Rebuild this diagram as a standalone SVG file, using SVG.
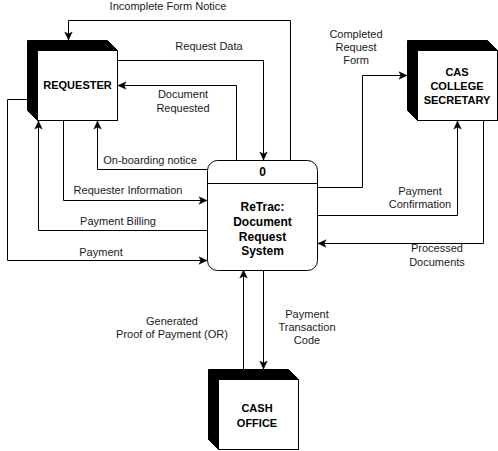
<svg xmlns="http://www.w3.org/2000/svg" width="498" height="451" viewBox="0 0 498 451">
<style>
.cube{fill:#000;stroke:#000;stroke-width:1}
.face{fill:#fff;stroke:#000;stroke-width:1}
.nl{font-family:"Liberation Sans",Arial,sans-serif;font-size:11px;font-weight:bold;fill:#000;text-anchor:middle;dominant-baseline:central}
.pl{font-family:"Liberation Sans",Arial,sans-serif;font-size:12px;font-weight:bold;fill:#000;text-anchor:middle;dominant-baseline:central}
.el{font-family:"Liberation Sans",Arial,sans-serif;font-size:11px;fill:#1a1a1a;text-anchor:middle;dominant-baseline:central}
.e{fill:none;stroke:#000;stroke-width:1;marker-end:url(#arr)}
</style>
<defs>
<marker id="arr" markerUnits="userSpaceOnUse" markerWidth="10" markerHeight="10" viewBox="0 0 10 10" refX="9" refY="5" orient="auto">
<path d="M1,1.3 L9,5 L1,8.7 L3,5 Z" fill="#000" stroke="#000" stroke-width="0.5"/>
</marker>
</defs>
<rect width="498" height="451" fill="#fff"/>
<g id="connectors">
<path class="e" d="M290.5,160 V20.5 H68.5 V40"/>
<path class="e" d="M117.5,60.5 H263.5 V160"/>
<path class="e" d="M236.5,160 V85.5 H118"/>
<path class="e" d="M207,169.5 H97.5 V121"/>
<path class="e" d="M63.5,121 V200.5 H207"/>
<path class="e" d="M207,230.5 H38.5 V121"/>
<path class="e" d="M27.5,99.5 H7.5 V260.5 H207"/>
<path class="e" d="M318,187.5 H362.5 V75.5 H407"/>
<path class="e" d="M318,215.5 H457.5 V121"/>
<path class="e" d="M483.5,121 V243.5 H318"/>
<path class="e" d="M243.5,369 V270"/>
<path class="e" d="M263.5,270 V369"/>
</g>
<g id="edge-labels">
<text class="el" x="168" y="6">Incomplete Form Notice</text>
<text class="el" x="209" y="46">Request Data</text>
<text class="el" x="183" y="94">Document</text>
<text class="el" x="183" y="108">Requested</text>
<text class="el" x="150" y="160">On-boarding notice</text>
<text class="el" x="128" y="190">Requester Information</text>
<text class="el" x="118" y="221">Payment Billing</text>
<text class="el" x="101" y="252">Payment</text>
<text class="el" x="356" y="34">Completed</text>
<text class="el" x="356" y="47">Request</text>
<text class="el" x="356" y="60">Form</text>
<text class="el" x="420" y="191">Payment</text>
<text class="el" x="420" y="204">Confirmation</text>
<text class="el" x="437" y="248">Processed</text>
<text class="el" x="437" y="262">Documents</text>
<text class="el" x="172" y="321">Generated</text>
<text class="el" x="172" y="334">Proof of Payment (OR)</text>
<text class="el" x="307" y="314">Payment</text>
<text class="el" x="307" y="327">Transaction</text>
<text class="el" x="307" y="340">Code</text>
</g>
<g id="requester">
<path class="cube" d="M27.5,40.5 H107.5 L117.5,50.5 V120.5 H37.5 L27.5,110.5 Z"/>
<rect class="face" x="37.5" y="50.5" width="80" height="70"/>
<text class="nl" x="77.5" y="85">REQUESTER</text>
</g>
<g id="cas-college-secretary">
<path class="cube" d="M407.5,40.5 H487.5 L497.5,50.5 V120.5 H417.5 L407.5,110.5 Z"/>
<rect class="face" x="417.5" y="50.5" width="80" height="70"/>
<text class="nl" x="457" y="72">CAS</text>
<text class="nl" x="457" y="86">COLLEGE</text>
<text class="nl" x="457" y="100">SECRETARY</text>
</g>
<g id="cash-office">
<path class="cube" d="M208.5,369.5 H288.5 L298.5,379.5 V449.5 H218.5 L208.5,439.5 Z"/>
<rect class="face" x="218.5" y="379.5" width="80" height="70"/>
<text class="nl" x="257" y="408">CASH</text>
<text class="nl" x="257" y="423">OFFICE</text>
</g>
<g id="process-0">
<rect x="207.5" y="160.5" width="110" height="110" rx="10" ry="10" fill="#fff" stroke="#000" stroke-width="1"/>
<line x1="207.5" y1="183.5" x2="317.5" y2="183.5" stroke="#000" stroke-width="1"/>
<text class="pl" x="262.5" y="172">0</text>
<text class="pl" x="262.5" y="207">ReTrac:</text>
<text class="pl" x="262.5" y="222">Document</text>
<text class="pl" x="262.5" y="237">Request</text>
<text class="pl" x="262.5" y="251">System</text>
</g>
</svg>
